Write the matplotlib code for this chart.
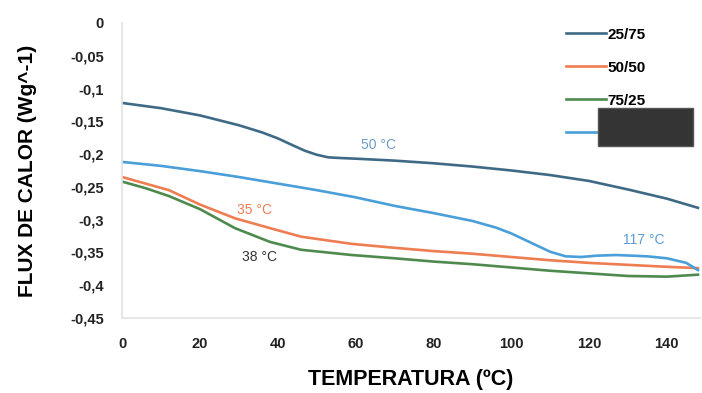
import numpy as np
import matplotlib
matplotlib.use("Agg")
import matplotlib.pyplot as plt
from matplotlib.ticker import FuncFormatter
from matplotlib.patches import Rectangle

plt.rcParams['font.family'] = ['Liberation Sans', 'DejaVu Sans']

# series
t_a = [0, 10, 20, 30, 36, 40, 44, 47, 50, 53, 56, 60, 70, 80, 90, 100, 110, 120, 130, 140, 148]
s_25_75 = [-0.122, -0.130, -0.141, -0.156, -0.167, -0.176, -0.187, -0.195, -0.201, -0.205, -0.206,
           -0.207, -0.210, -0.214, -0.219, -0.225, -0.232, -0.241, -0.254, -0.268, -0.282]

t_b = [0, 6, 12, 20, 29, 38, 46, 59, 70, 80, 90, 100, 110, 120, 130, 140, 148]
s_50_50 = [-0.235, -0.245, -0.255, -0.277, -0.298, -0.313, -0.326, -0.337, -0.343, -0.348,
           -0.352, -0.357, -0.362, -0.366, -0.369, -0.372, -0.374]
s_75_25 = [-0.242, -0.252, -0.264, -0.284, -0.313, -0.334, -0.346, -0.354, -0.359, -0.364,
           -0.368, -0.373, -0.378, -0.382, -0.386, -0.387, -0.384]

t_c = [0, 10, 20, 30, 40, 50, 60, 70, 80, 90, 96, 100, 105, 110, 114, 118, 122, 127, 135, 140, 145, 148]
s_4 = [-0.212, -0.218, -0.226, -0.235, -0.245, -0.255, -0.266, -0.279, -0.290, -0.302, -0.312,
       -0.321, -0.335, -0.349, -0.356, -0.357, -0.355, -0.354, -0.356, -0.359, -0.366, -0.377]

x_ticks = [0, 20, 40, 60, 80, 100, 120, 140]
y_ticks = [0, -0.05, -0.1, -0.15, -0.2, -0.25, -0.3, -0.35, -0.4, -0.45]

fig = plt.figure(figsize=(7.02, 3.93), dpi=100)
ax = fig.add_axes([0.174, 0.191, 0.823, 0.7505])

ax.plot(t_a, s_25_75, color="#3f6a86", lw=1.9, label="25/75")
ax.plot(t_b, s_50_50, color="#ee7d52", lw=1.9, label="50/50")
ax.plot(t_b, s_75_25, color="#4e8a4e", lw=1.9, label="75/25")
ax.plot(t_c, s_4, color="#4a9fd8", lw=1.9, label=" ")

ax.set_xlim(0, 148.5)
ax.set_ylim(-0.45, 0)
ax.set_xticks(x_ticks)
ax.set_yticks(y_ticks)
ax.yaxis.set_major_formatter(FuncFormatter(lambda v, p: ("%g" % round(v, 2)).replace(".", ",")))
ax.tick_params(length=0, labelsize=10.5)
ax.tick_params(axis="y", pad=13)
ax.tick_params(axis="x", pad=14)
for lab in ax.get_xticklabels() + ax.get_yticklabels():
    lab.set_fontweight("bold")
    lab.set_color("#222222")

for side in ["top", "right"]:
    ax.spines[side].set_visible(False)
for side in ["left", "bottom"]:
    ax.spines[side].set_color("#e3e3e3")
    ax.spines[side].set_linewidth(1.2)

ax.set_ylabel("FLUX DE CALOR (Wg^-1)", fontsize=15, fontweight="bold", labelpad=24)
ax.set_xlabel("TEMPERATURA (ºC)", fontsize=15.5, fontweight="bold", labelpad=13)

ax.text(66, -0.186, "50 °C", color="#6b9bc8", fontsize=10, ha="center", va="center")
ax.text(34, -0.285, "35 °C", color="#ee7d52", fontsize=10, ha="center", va="center")
ax.text(35.3, -0.357, "38 °C", color="#333333", fontsize=10, ha="center", va="center")
ax.text(134, -0.331, "117 °C", color="#5b9bd5", fontsize=10, ha="center", va="center")

leg = fig.legend(loc="upper left", bbox_to_anchor=(0.787, 0.965), frameon=False,
                 handlelength=2.6, handletextpad=0.1, labelspacing=1.25,
                 prop={"weight": "bold", "size": 11})

# covered label box
fig.patches.append(Rectangle((598 / 702, 1 - 146 / 393), 95 / 702, 38 / 393,
                             transform=fig.transFigure, facecolor="#343434",
                             edgecolor="#555555", zorder=10))

fig.savefig("out.png", dpi=100)
